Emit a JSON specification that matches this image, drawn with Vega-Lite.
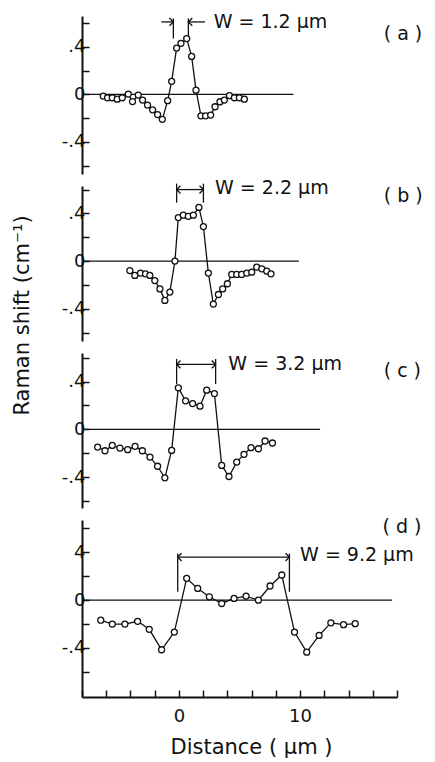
{
  "$schema": "https://vega.github.io/schema/vega-lite/v6.json",
  "padding": {"left": 10, "top": 12, "right": 5, "bottom": 5},
  "background": "white",
  "spacing": 12,
  "bounds": "flush",
  "datasets": {
    "a": [{"x":-6.25,"y":-0.014},{"x":-5.89,"y":-0.028},{"x":-5.5,"y":-0.028},{"x":-5.09,"y":-0.04},{"x":-4.68,"y":-0.028},{"x":-4.18,"y":0.003},{"x":-3.83,"y":-0.06},{"x":-3.36,"y":-0.006},{"x":-3.0,"y":-0.048},{"x":-2.59,"y":-0.09},{"x":-2.17,"y":-0.13},{"x":-1.76,"y":-0.17},{"x":-1.37,"y":-0.21},{"x":-0.93,"y":-0.053},{"x":-0.6,"y":0.11},{"x":-0.19,"y":0.39},{"x":0.17,"y":0.43},{"x":0.64,"y":0.47},{"x":1.05,"y":0.32},{"x":1.41,"y":0.036},{"x":1.82,"y":-0.18},{"x":2.2,"y":-0.18},{"x":2.62,"y":-0.174},{"x":2.98,"y":-0.104},{"x":3.39,"y":-0.062},{"x":3.75,"y":-0.048},{"x":4.17,"y":-0.011},{"x":4.58,"y":-0.028},{"x":4.99,"y":-0.028},{"x":5.4,"y":-0.04}],
    "b": [{"x":-4.05,"y":-0.079},{"x":-3.64,"y":-0.12},{"x":-3.17,"y":-0.1},{"x":-2.76,"y":-0.107},{"x":-2.4,"y":-0.12},{"x":-1.99,"y":-0.163},{"x":-1.57,"y":-0.233},{"x":-1.16,"y":-0.33},{"x":-0.75,"y":-0.26},{"x":-0.33,"y":0.0},{"x":-0.05,"y":0.365},{"x":0.36,"y":0.385},{"x":0.78,"y":0.376},{"x":1.19,"y":0.385},{"x":1.65,"y":0.45},{"x":2.02,"y":0.29},{"x":2.43,"y":-0.1},{"x":2.84,"y":-0.36},{"x":3.26,"y":-0.28},{"x":3.61,"y":-0.233},{"x":4.0,"y":-0.19},{"x":4.36,"y":-0.112},{"x":4.77,"y":-0.112},{"x":5.18,"y":-0.112},{"x":5.6,"y":-0.1},{"x":6.01,"y":-0.093},{"x":6.42,"y":-0.05},{"x":6.84,"y":-0.065},{"x":7.25,"y":-0.084},{"x":7.6,"y":-0.107}],
    "c": [{"x":-6.71,"y":-0.149},{"x":-6.1,"y":-0.18},{"x":-5.5,"y":-0.135},{"x":-4.87,"y":-0.157},{"x":-4.23,"y":-0.171},{"x":-3.62,"y":-0.143},{"x":-3.02,"y":-0.18},{"x":-2.39,"y":-0.233},{"x":-1.76,"y":-0.31},{"x":-1.16,"y":-0.407},{"x":-0.6,"y":-0.177},{"x":-0.05,"y":0.348},{"x":0.55,"y":0.239},{"x":1.13,"y":0.216},{"x":1.74,"y":0.194},{"x":2.29,"y":0.328},{"x":2.93,"y":0.3},{"x":3.53,"y":-0.303},{"x":4.13,"y":-0.396},{"x":4.77,"y":-0.275},{"x":5.37,"y":-0.21},{"x":5.95,"y":-0.154},{"x":6.56,"y":-0.163},{"x":7.11,"y":-0.098},{"x":7.72,"y":-0.115}],
    "d": [{"x":-6.45,"y":-0.168},{"x":-5.5,"y":-0.2},{"x":-4.46,"y":-0.2},{"x":-3.41,"y":-0.177},{"x":-2.45,"y":-0.244},{"x":-1.43,"y":-0.415},{"x":-0.38,"y":-0.267},{"x":0.64,"y":0.182},{"x":1.55,"y":0.098},{"x":2.51,"y":0.028},{"x":3.53,"y":-0.028},{"x":4.55,"y":0.014},{"x":5.54,"y":0.034},{"x":6.56,"y":0.0},{"x":7.52,"y":0.118},{"x":8.49,"y":0.21},{"x":9.54,"y":-0.267},{"x":10.55,"y":-0.435},{"x":11.57,"y":-0.295},{"x":12.54,"y":-0.19},{"x":13.59,"y":-0.205},{"x":14.55,"y":-0.197}],
    "rules_a": [{"x":-8,"x2":9.45,"y":0,"y2":0},{"x":-0.46,"x2":-0.46,"y":0.64,"y2":0.47},{"x":0.78,"x2":0.78,"y":0.64,"y2":0.47},{"x":-1.45,"x2":-0.46,"y":0.61,"y2":0.61},{"x":0.78,"x2":2.15,"y":0.61,"y2":0.61}],
    "rules_b": [{"x":-8,"x2":9.9,"y":0,"y2":0},{"x":-0.19,"x2":-0.19,"y":0.65,"y2":0.49},{"x":2.02,"x2":2.02,"y":0.65,"y2":0.49},{"x":-0.19,"x2":2.02,"y":0.6,"y2":0.6}],
    "rules_c": [{"x":-8,"x2":11.65,"y":0,"y2":0},{"x":-0.19,"x2":-0.19,"y":0.59,"y2":0.38},{"x":3.03,"x2":3.03,"y":0.59,"y2":0.38},{"x":-0.19,"x2":3.03,"y":0.544,"y2":0.544}],
    "rules_d": [{"x":-8,"x2":17.6,"y":0,"y2":0},{"x":-0.1,"x2":-0.1,"y":0.39,"y2":0.07},{"x":9.12,"x2":9.12,"y":0.39,"y2":0.07},{"x":-0.1,"x2":9.12,"y":0.36,"y2":0.36}],
    "heads_a": [{"x":-0.46,"y":0.61,"dir":"r"},{"x":0.78,"y":0.61,"dir":"l"}],
    "heads_b": [{"x":-0.19,"y":0.6,"dir":"l"},{"x":2.02,"y":0.6,"dir":"r"}],
    "heads_c": [{"x":-0.19,"y":0.544,"dir":"l"},{"x":3.03,"y":0.544,"dir":"r"}],
    "heads_d": [{"x":-0.1,"y":0.36,"dir":"l"},{"x":9.12,"y":0.36,"dir":"r"}],
    "text_a": [{"x":2.87,"y":0.61,"label":"W = 1.2 µm"},{"x":16.9,"y":0.505,"label":"( a )"}],
    "text_b": [{"x":2.98,"y":0.615,"label":"W = 2.2 µm"},{"x":16.9,"y":0.544,"label":"( b )"}],
    "text_c": [{"x":4.08,"y":0.544,"label":"W = 3.2 µm"},{"x":16.9,"y":0.49,"label":"( c )"}],
    "text_d": [{"x":10.0,"y":0.377,"label":"W = 9.2 µm"},{"x":16.8,"y":0.614,"label":"( d )"}]
  },
  "vconcat": [
    {
      "width": 315, "height": 158,
      "encoding": {
        "x": {"field": "x", "type": "quantitative", "scale": {"domain": [-8, 18], "nice": false, "zero": false}, "axis": null},
        "y": {"field": "y", "type": "quantitative", "scale": {"domain": [-0.67, 0.66], "nice": false, "zero": false},
              "axis": {"values": [-0.6,-0.4,-0.2,0,0.2,0.4,0.6], "labelExpr": "datum.value == 0.4 ? '.4' : (datum.value == -0.4 ? '-.4' : (datum.value == 0 ? '0' : ''))", "title": null}}
      },
      "layer": [
        {"data": {"name": "rules_a"}, "mark": {"type": "rule", "color": "#111", "strokeWidth": 1.3}, "encoding": {"x2": {"field": "x2"}, "y2": {"field": "y2"}}},
        {"data": {"name": "heads_a"}, "mark": {"type": "point", "filled": false, "stroke": "#111", "strokeWidth": 1.3, "size": 60, "opacity": 1},
         "encoding": {"shape": {"field": "dir", "type": "nominal", "scale": {"domain": ["l", "r"], "range": ["M1,-1L0,0L1,1", "M-1,-1L0,0L-1,1"]}, "legend": null}}},
        {"data": {"name": "a"}, "mark": {"type": "line", "color": "#111", "strokeWidth": 1.3}},
        {"data": {"name": "a"}, "mark": {"type": "point", "filled": true, "fill": "white", "stroke": "#111", "strokeWidth": 1.3, "size": 36, "opacity": 1}},
        {"data": {"name": "text_a"}, "mark": {"type": "text", "align": "left", "baseline": "middle", "font": "DejaVu Sans", "fontSize": 19, "color": "#111"}, "encoding": {"text": {"field": "label"}}}
      ]
    },
    {
      "width": 315, "height": 155,
      "encoding": {
        "x": {"field": "x", "type": "quantitative", "scale": {"domain": [-8, 18], "nice": false, "zero": false}, "axis": null},
        "y": {"field": "y", "type": "quantitative", "scale": {"domain": [-0.67, 0.63], "nice": false, "zero": false},
              "axis": {"values": [-0.6,-0.4,-0.2,0,0.2,0.4,0.6], "labelExpr": "datum.value == 0.4 ? '.4' : (datum.value == -0.4 ? '-.4' : (datum.value == 0 ? '0' : ''))", "title": "Raman shift (cm⁻¹)", "titleX": -50, "titleY": 129}}
      },
      "layer": [
        {"data": {"name": "rules_b"}, "mark": {"type": "rule", "color": "#111", "strokeWidth": 1.3}, "encoding": {"x2": {"field": "x2"}, "y2": {"field": "y2"}}},
        {"data": {"name": "heads_b"}, "mark": {"type": "point", "filled": false, "stroke": "#111", "strokeWidth": 1.3, "size": 60, "opacity": 1},
         "encoding": {"shape": {"field": "dir", "type": "nominal", "scale": {"domain": ["l", "r"], "range": ["M1,-1L0,0L1,1", "M-1,-1L0,0L-1,1"]}, "legend": null}}},
        {"data": {"name": "b"}, "mark": {"type": "line", "color": "#111", "strokeWidth": 1.3}},
        {"data": {"name": "b"}, "mark": {"type": "point", "filled": true, "fill": "white", "stroke": "#111", "strokeWidth": 1.3, "size": 36, "opacity": 1}},
        {"data": {"name": "text_b"}, "mark": {"type": "text", "align": "left", "baseline": "middle", "font": "DejaVu Sans", "fontSize": 19, "color": "#111"}, "encoding": {"text": {"field": "label"}}}
      ]
    },
    {
      "width": 315, "height": 155,
      "encoding": {
        "x": {"field": "x", "type": "quantitative", "scale": {"domain": [-8, 18], "nice": false, "zero": false}, "axis": null},
        "y": {"field": "y", "type": "quantitative", "scale": {"domain": [-0.66, 0.64], "nice": false, "zero": false},
              "axis": {"values": [-0.6,-0.4,-0.2,0,0.2,0.4,0.6], "labelExpr": "datum.value == 0.4 ? '.4' : (datum.value == -0.4 ? '-.4' : (datum.value == 0 ? '0' : ''))", "title": null}}
      },
      "layer": [
        {"data": {"name": "rules_c"}, "mark": {"type": "rule", "color": "#111", "strokeWidth": 1.3}, "encoding": {"x2": {"field": "x2"}, "y2": {"field": "y2"}}},
        {"data": {"name": "heads_c"}, "mark": {"type": "point", "filled": false, "stroke": "#111", "strokeWidth": 1.3, "size": 60, "opacity": 1},
         "encoding": {"shape": {"field": "dir", "type": "nominal", "scale": {"domain": ["l", "r"], "range": ["M1,-1L0,0L1,1", "M-1,-1L0,0L-1,1"]}, "legend": null}}},
        {"data": {"name": "c"}, "mark": {"type": "line", "color": "#111", "strokeWidth": 1.3}},
        {"data": {"name": "c"}, "mark": {"type": "point", "filled": true, "fill": "white", "stroke": "#111", "strokeWidth": 1.3, "size": 36, "opacity": 1}},
        {"data": {"name": "text_c"}, "mark": {"type": "text", "align": "left", "baseline": "middle", "font": "DejaVu Sans", "fontSize": 19, "color": "#111"}, "encoding": {"text": {"field": "label"}}}
      ]
    },
    {
      "width": 315, "height": 177,
      "encoding": {
        "x": {"field": "x", "type": "quantitative", "scale": {"domain": [-8, 18], "nice": false, "zero": false},
              "axis": {"values": [-8,-6,-4,-2,0,2,4,6,8,10,12,14,16,18], "labelExpr": "datum.value == 0 || datum.value == 10 ? datum.label : ''", "title": "Distance ( µm )", "labelPadding": 17, "titlePadding": 11, "titleX": 169}},
        "y": {"field": "y", "type": "quantitative", "scale": {"domain": [-0.81, 0.67], "nice": false, "zero": false},
              "axis": {"values": [-0.6,-0.4,-0.2,0,0.2,0.4,0.6], "labelExpr": "datum.value == 0.4 ? '4' : (datum.value == -0.4 ? '-.4' : (datum.value == 0 ? '0' : ''))", "title": null}}
      },
      "layer": [
        {"data": {"name": "rules_d"}, "mark": {"type": "rule", "color": "#111", "strokeWidth": 1.3}, "encoding": {"x2": {"field": "x2"}, "y2": {"field": "y2"}}},
        {"data": {"name": "heads_d"}, "mark": {"type": "point", "filled": false, "stroke": "#111", "strokeWidth": 1.3, "size": 60, "opacity": 1},
         "encoding": {"shape": {"field": "dir", "type": "nominal", "scale": {"domain": ["l", "r"], "range": ["M1,-1L0,0L1,1", "M-1,-1L0,0L-1,1"]}, "legend": null}}},
        {"data": {"name": "d"}, "mark": {"type": "line", "color": "#111", "strokeWidth": 1.3}},
        {"data": {"name": "d"}, "mark": {"type": "point", "filled": true, "fill": "white", "stroke": "#111", "strokeWidth": 1.3, "size": 36, "opacity": 1}},
        {"data": {"name": "text_d"}, "mark": {"type": "text", "align": "left", "baseline": "middle", "font": "DejaVu Sans", "fontSize": 19, "color": "#111"}, "encoding": {"text": {"field": "label"}}}
      ]
    }
  ],
  "config": {
    "view": {"stroke": null},
    "axis": {
      "grid": false,
      "domainColor": "#111", "domainWidth": 2,
      "tickColor": "#111", "tickWidth": 1.5, "tickSize": -7,
      "labelFont": "DejaVu Sans", "labelFontSize": 18, "labelColor": "#111", "labelOverlap": false, "labelFlush": false, "labelPadding": 4,
      "titleFont": "DejaVu Sans", "titleFontSize": 21, "titleFontWeight": "normal", "titleColor": "#111"
    }
  }
}
